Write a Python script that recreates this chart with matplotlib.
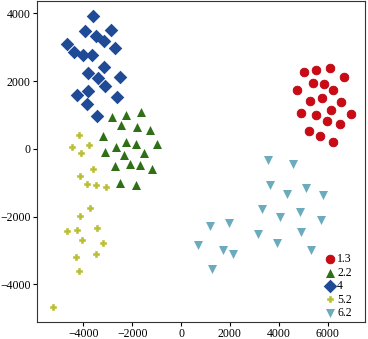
import numpy as np
import matplotlib
matplotlib.use("Agg")
import matplotlib.pyplot as plt

plt.rcParams['font.family'] = ['Liberation Serif', 'DejaVu Serif']

# cluster "1.3" (red circles)
x13 = [5027, 5518, 6090, 6673, 5408, 5845, 4769, 6224, 5272, 5789,
       6537, 4931, 6129, 6973, 5544, 5993, 6497, 5245, 5680, 6224]
y13 = [2253, 2332, 2382, 2126, 1930, 1912, 1735, 1735, 1421, 1488,
       1371, 1047, 1147, 1029, 1000, 812, 735, 518, 371, 215]

# cluster "2.2" (green triangles)
x22 = [-2810, -2237, -1625, -2469, -1803, -1286, -3190, -2237, -1830, -971,
       -2646, -3122, -1518, -2347, -2102, -1694, -2714, -1176, -2482, -1857]
y22 = [950, 1000, 1097, 705, 635, 559, 391, 194, 147, 147,
       68, -100, -129, -197, -441, -491, -520, -588, -1000, -1079]

# cluster "4" (blue diamonds)
x4 = [-3600, -3939, -2849, -3502, -3163, -4686, -2714, -4375, -4033, -3640,
      -3150, -3803, -3395, -2510, -3095, -3830, -4278, -2620, -3844, -3462]
y4 = [3920, 3480, 3500, 3332, 3185, 3088, 2970, 2862, 2774, 2774,
      2400, 2224, 2076, 2106, 1862, 1715, 1588, 1518, 1324, 980]

# cluster "5.2" (yellow plus)
x52 = [-4171, -4457, -3776, -4114, -3600, -4143, -3869, -3502, -3053, -3735,
       -4143, -3437, -4686, -4265, -4073, -3216, -3502, -4306, -4184, -5257]
y52 = [412, 47, 126, -129, -588, -806, -1029, -1079, -1129, -1735,
       -1991, -2324, -2432, -2382, -2697, -2776, -3088, -3188, -3609, -4676]

# cluster "6.2" (cyan down triangles)
x62 = [3571, 4592, 3640, 4347, 5110, 5816, 3298, 4073, 4865, 5747,
       1190, 1980, 3135, 4905, 714, 3912, 1707, 2143, 5340, 1258]
y62 = [-344, -462, -1079, -1324, -1158, -1373, -1765, -2010, -1863, -2088,
       -2285, -2188, -2520, -2452, -2844, -2776, -2991, -3088, -2991, -3550]

fig = plt.figure(figsize=(3.68, 3.39), dpi=100)
ax = fig.add_axes([0.1005, 0.05, 0.891, 0.947])

ax.scatter(x13, y13, s=40, marker='o', color='#cc0a14', edgecolors='#b00010', linewidths=0.5, label='1.3')
ax.scatter(x22, y22, s=42, marker='^', color='#2f6f16', linewidths=0, label='2.2')
ax.scatter(x4, y4, s=48, marker='D', color='#1f4a96', linewidths=0, label='4')
ax.scatter(x52, y52, s=24, marker='P', color='#b9bd30', edgecolors='#b9bd30', linewidths=0.4, label='5.2')
ax.scatter(x62, y62, s=42, marker='v', color='#6aabbd', linewidths=0, label='6.2')

ax.set_xlim(-5900, 7530)
ax.set_ylim(-5110, 4360)
ax.set_xticks([-4000, -2000, 0, 2000, 4000, 6000])
ax.set_yticks([-4000, -2000, 0, 2000, 4000])
ax.tick_params(labelsize=8.5, length=3, width=0.8, direction='out', pad=1.5)
for s in ax.spines.values():
    s.set_linewidth(0.8)
    s.set_color('#333333')

ax.legend(loc='lower right', frameon=False, fontsize=8.5, handletextpad=0.0,
          labelspacing=0.12, borderaxespad=0.0, handlelength=1.2,
          bbox_to_anchor=(0.975, -0.005))

fig.savefig('out.png', dpi=100)
